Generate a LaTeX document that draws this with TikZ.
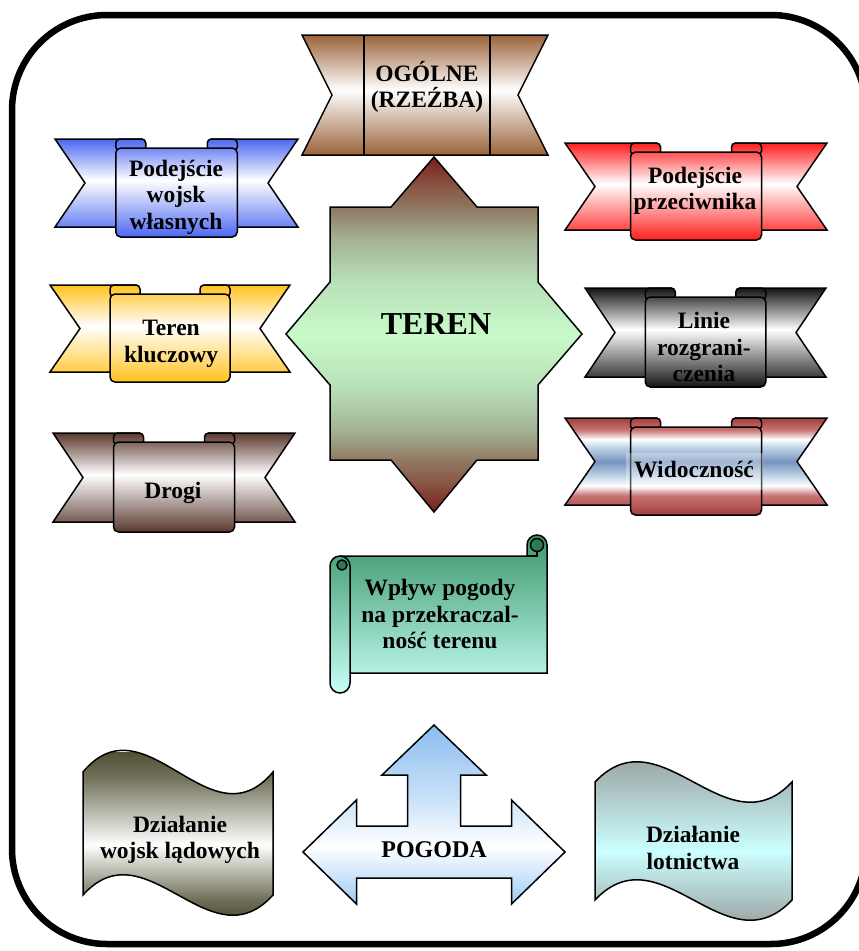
\documentclass[tikz,border=0pt]{standalone}
\usepackage{fontspec}
\setmainfont{Liberation Serif}

% ribbon colours
\definecolor{ribblue}{HTML}{4B68F2}
\definecolor{ribred}{HTML}{FF1E1E}
\definecolor{ribgold}{HTML}{FFC21E}
\definecolor{ribblack}{HTML}{141414}
\definecolor{ribbrown}{HTML}{5A392E}
\definecolor{ogbrown}{HTML}{9A633A}
% striped ribbon
\definecolor{wdred}{HTML}{A23E3E}
\definecolor{wlred}{HTML}{C87272}
\definecolor{wlblue}{HTML}{C2D5E8}
\definecolor{wsblue}{HTML}{7694BE}
% central star
\definecolor{tdred}{HTML}{7A1F1C}
\definecolor{tbrown}{HTML}{8A5A48}
\definecolor{ttaupe}{HTML}{8F7560}
\definecolor{tsage}{HTML}{A2B292}
\definecolor{tlg}{HTML}{B8E0B8}
\definecolor{tgreen}{HTML}{C8FAC8}
% scroll
\definecolor{scrtop}{HTML}{3A9668}
\definecolor{scrbot}{HTML}{C8FFF8}
\definecolor{scrdark}{HTML}{2E7A56}
% waves and arrow
\definecolor{olive}{HTML}{505034}
\definecolor{wgray}{HTML}{9EA8A8}
\definecolor{wcyan}{HTML}{CCFFFF}
\definecolor{abluetop}{HTML}{8CBDF0}
\definecolor{abluemid}{HTML}{C8E0F8}
\definecolor{abluebot}{HTML}{9CCBF5}

% colour -> white -> colour, white band slightly above the middle
\newcommand\ribshade[3]{%
  \pgfdeclareverticalshading{#1}{100bp}{color(0bp)=(#2); color(25bp)=(#2);
    color(#3)=(white); color(75bp)=(#2); color(100bp)=(#2)}}
\ribshade{shBlue}{ribblue}{54bp}
\ribshade{shRed}{ribred}{54bp}
\ribshade{shGold}{ribgold}{54bp}
\ribshade{shBlack}{ribblack}{54bp}
\ribshade{shBrown}{ribbrown}{54bp}
\ribshade{shOg}{ogbrown}{52bp}

\pgfdeclareverticalshading{shOlive}{100bp}{color(0bp)=(olive); color(25bp)=(olive);
  color(31bp)=(olive!80!white); color(47bp)=(white); color(67bp)=(olive!80!white);
  color(75bp)=(olive); color(100bp)=(olive)}
\pgfdeclareverticalshading{shWid}{100bp}{color(0bp)=(wdred); color(25bp)=(wdred);
  color(35bp)=(wlred); color(40bp)=(white); color(45bp)=(wlblue); color(52.5bp)=(wsblue);
  color(60bp)=(wlblue); color(64bp)=(white); color(69bp)=(wlred); color(75bp)=(wdred);
  color(100bp)=(wdred)}
\pgfdeclareverticalshading{shTeren}{100bp}{color(0bp)=(tdred); color(25bp)=(tdred);
  color(29.5bp)=(tbrown); color(32bp)=(ttaupe); color(36.5bp)=(tsage); color(42.5bp)=(tlg);
  color(50bp)=(tgreen); color(57.5bp)=(tlg); color(63.5bp)=(tsage); color(68bp)=(ttaupe);
  color(70.5bp)=(tbrown); color(75bp)=(tdred); color(100bp)=(tdred)}
\pgfdeclareverticalshading{shSky}{100bp}{color(0bp)=(wgray); color(25bp)=(wgray);
  color(47bp)=(wcyan); color(75bp)=(wgray); color(100bp)=(wgray)}
\pgfdeclareverticalshading{shPog}{100bp}{color(0bp)=(abluebot); color(25bp)=(abluebot);
  color(41bp)=(white); color(55bp)=(abluemid); color(75bp)=(abluetop); color(100bp)=(abluetop)}

% ribbon banner: #1 left tip, #2 right tip, #3 tail top, #4 tail bottom, #5 shading
\newcommand\ribbon[5]{%
  \pgfmathsetmacro\rL{#1}%
  \pgfmathsetmacro\rR{#2}%
  \pgfmathsetmacro\rT{#3}%
  \pgfmathsetmacro\rB{#4}%
  \pgfmathsetmacro\rPL{#1+(#2-#1)/4}%
  \pgfmathsetmacro\rPR{#2-(#2-#1)/4}%
  \pgfmathsetmacro\rM{(#3+#4)/2}%
  \pgfmathsetmacro\rPT{#3+9}%
  \pgfmathsetmacro\rPB{#4+10}%
  \tikzset{ribfill/.style={path picture={\shade[shading=#5] (\rL,\rT) rectangle (\rR,\rPB);}}}%
  \draw[outl,ribfill] (\rL,\rT) -- (\rL+30,\rM) -- (\rL,\rB) -- (\rPL+26,\rB) -- (\rPL+26,\rT) -- cycle;
  \draw[outl,ribfill] (\rR,\rT) -- (\rR-30,\rM) -- (\rR,\rB) -- (\rPR-26,\rB) -- (\rPR-26,\rT) -- cycle;
  \draw[outl,ribfill,rounded corners=4pt] (\rPL,\rT) rectangle (\rPL+30,\rPT+3);
  \draw[outl,ribfill,rounded corners=4pt] (\rPR-30,\rT) rectangle (\rPR,\rPT+3);
  \draw[outl,ribfill,rounded corners=5pt] (\rPL,\rPT) rectangle (\rPR,\rPB);
}

% wave outlines
\def\waveLand{(83,772) .. controls (146,697) and (210,847) .. (273,772)
  -- (273,895) .. controls (210,965) and (146,825) .. (83,895) -- cycle}
\def\waveAir{(595,782) .. controls (661,712) and (726,852) .. (792,782)
  -- (792,900) .. controls (726,970) and (661,830) .. (595,900) -- cycle}

\begin{document}
\begin{tikzpicture}[x=1pt,y=-1pt,
  outl/.style={draw=black,line width=1.5pt,line join=miter},
  lbl/.style={font=\fontsize{23.5}{26.5}\selectfont\bfseries,align=center,inner sep=0pt}]
\useasboundingbox (0,0) rectangle (859,951);

% outer frame
\begin{scope}
  \clip (0,0) rectangle (859,951);
  \draw[line width=6.5pt,rounded corners=95pt] (12,15) rectangle (866,944);
\end{scope}

% top banner
\shadedraw[outl,shading=shOg] (302,35) -- (548,35) -- (518,95) -- (548,155) -- (302,155) -- (332,95) -- cycle;
\draw[outl] (364,35) -- (364,155);
\draw[outl] (490,35) -- (490,155);

% ribbons
\ribbon{55}{298}{139}{227}{shBlue}
\ribbon{565}{827}{143}{230}{shRed}
\ribbon{50}{290}{285}{372}{shGold}
\ribbon{585}{826}{288}{377}{shBlack}
\ribbon{565}{827}{418}{505}{shWid}
\ribbon{53}{295}{433}{522}{shBrown}

% central star
\shadedraw[outl,shading=shTeren] (434,157) -- (477,207) -- (538,207) -- (538,282) -- (582,334)
  -- (538,385) -- (538,460) -- (477,460) -- (434,512) -- (391,460) -- (330,460) -- (330,385)
  -- (286,334) -- (330,282) -- (330,207) -- (391,207) -- cycle;

% scroll
\shadedraw[outl,top color=scrtop,bottom color=scrbot]
  (340,556) -- (527,556) -- (527,545) arc[start angle=180,end angle=0,radius=10pt]
  -- (547,673) -- (350,673) -- (350,683) arc[start angle=0,end angle=-180,radius=10pt]
  -- (330,566) arc[start angle=180,end angle=90,radius=10pt] -- cycle;
\draw[outl] (340,556) arc[start angle=90,end angle=0,radius=10pt] -- (350,673);
\filldraw[outl,fill=scrdark] (342,565) circle[radius=5pt];
\filldraw[outl,fill=scrdark] (537,545) circle[radius=6.5pt];
\draw[outl] (527,556) -- (537,556) -- (537,551.5);

% waves: shading clipped to the outline, spanning its visible height
\begin{scope}
  \clip \waveLand;
  \shade[shading=shOlive] (83,752) rectangle (273,918);
\end{scope}
\draw[outl] \waveLand;
\begin{scope}
  \clip \waveAir;
  \shade[shading=shSky] (595,762) rectangle (792,921);
\end{scope}
\draw[outl] \waveAir;

% three-way arrow
\shadedraw[outl,shading=shPog] (303,852) -- (356.5,800) -- (356.5,826) -- (407.5,826) -- (407.5,775)
  -- (382,775) -- (434,725) -- (486,775) -- (460.5,775) -- (460.5,826) -- (511.5,826)
  -- (511.5,800) -- (565,852) -- (511.5,904) -- (511.5,878) -- (356.5,878) -- (356.5,904) -- cycle;

% texts
\node[lbl] (ogolne) at (427,87) {OGÓLNE\\(RZEŹBA)};
\node[lbl] (wlasne) at (176,197) {Podejście\\wojsk\\własnych};
\node[lbl] (przeciw) at (695,191) {Podejście\\przeciwnika};
\node[lbl] (kluczowy) at (171,344) {Teren\\kluczowy};
\node[lbl] (linie) at (704,347) {Linie\\rozgrani-\\czenia};
\node[fill=white,fill opacity=0.3,minimum width=137pt,minimum height=37pt,inner sep=0pt] (widbg) at (694,471) {};
\node[lbl] (widocz) at (694,470) {Widoczność};
\node[lbl] (drogi) at (173,493) {Drogi};
\node[font=\fontsize{32}{36}\selectfont\bfseries,inner sep=0pt] (teren) at (436,324) {TEREN};
\node[lbl] (wplyw) at (440,614) {Wpływ pogody\\na przekraczal-\\ność terenu};
\node[font=\fontsize{24}{27}\selectfont\bfseries,inner sep=0pt] (pogoda) at (434,850) {POGODA};
\node[lbl] (ladowe) at (180,840) {Działanie\\wojsk lądowych};
\node[lbl] (lotnictwo) at (693,848) {Działanie\\lotnictwa};
\end{tikzpicture}
\end{document}
